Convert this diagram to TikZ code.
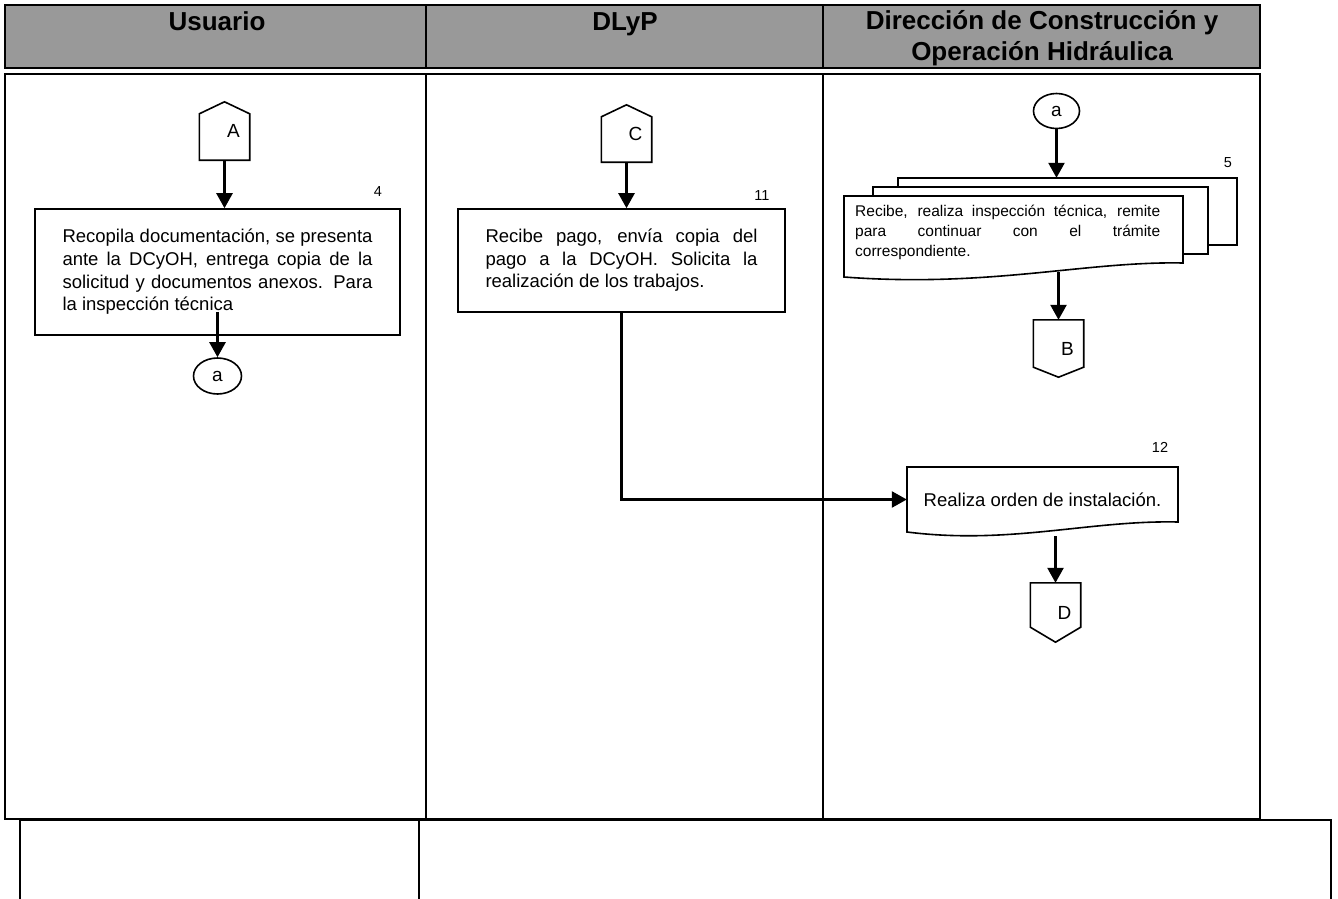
\documentclass[tikz,border=0pt]{standalone}
\usepackage{fontspec}
\setmainfont{Liberation Sans}
\usetikzlibrary{arrows.meta,calc,shapes.geometric}
\begin{document}
\begin{tikzpicture}[x=1pt,y=-1pt,
  cell/.style={draw=black,line width=1.6pt,inner sep=0pt},
  hcell/.style={cell,fill=black!40},
  htext/.style={font=\bfseries\fontsize{26}{31}\selectfont,align=center,inner sep=0pt},
  procbox/.style={draw=black,line width=1.6pt,fill=white,inner sep=0pt,font=\fontsize{18.5}{22.6}\selectfont,align=left},
  docbox/.style={draw=none,inner sep=0pt},
  docshape/.style={draw=black,line width=1.6pt,fill=white},
  docline/.style={draw=black,line width=1.6pt},
  numlbl/.style={font=\fontsize{14.5}{16}\selectfont,inner sep=0pt},
  offpage/.style={draw=none,minimum width=50pt,inner sep=0pt,font=\fontsize{19}{21}\selectfont},
  offline/.style={draw=black,line width=1.6pt},
  conn/.style={ellipse,draw=black,line width=1.6pt,minimum width=48pt,minimum height=36pt,inner sep=0pt,font=\fontsize{19}{21}\selectfont},
  flow/.style={draw=black,line width=2.5pt,-{Triangle[length=15pt,width=16pt]}},
]
\useasboundingbox (0,0) rectangle (1338,899);
\fill[white] (0,0) rectangle (1338,899);

% header
\node[hcell,minimum width=421pt,minimum height=63pt] (h1) at (215.5,36.5) {};
\node[hcell,minimum width=397pt,minimum height=63pt] (h2) at (624.5,36.5) {};
\node[hcell,minimum width=437pt,minimum height=63pt] (h3) at (1041.5,36.5) {};
\node[htext,anchor=base] (t1) at (217,31) {Usuario};
\node[htext,anchor=base] (t2) at (625,31) {DLyP};
\node[htext] (t3) at (1042,38.5) {Dirección de Construcción y\\Operación Hidráulica};

% lanes
\node[cell,minimum width=421pt,minimum height=745pt] (l1) at (215.5,446.5) {};
\node[cell,minimum width=397pt,minimum height=745pt] (l2) at (624.5,446.5) {};
\node[cell,minimum width=437pt,minimum height=745pt] (l3) at (1041.5,446.5) {};

% bottom table
\node[cell,minimum width=399pt,minimum height=90pt] (b1) at (219.5,865) {};
\node[cell,minimum width=912pt,minimum height=90pt] (b2) at (875,865) {};

% lane 1
\node[offpage,minimum height=58pt] (A) at (224.5,131) {\hspace*{18pt}A};
\draw[offline] (A.south west) -- (A.south east) -- ($(A.north east)+(0,12)$) -- (A.north) -- ($(A.north west)+(0,12)$) -- cycle;
\node[procbox,minimum width=365pt,minimum height=126pt] (p4) at (217.5,272)
 {\makebox[310pt][s]{Recopila documentación, se presenta}\\\makebox[310pt][s]{ante la DCyOH, entrega copia de la}\\\makebox[310pt][s]{solicitud y documentos anexos. Para}\\la inspección técnica};
\node[numlbl] (n4) at (378,192) {4};
\node[conn] (a1) at (217.5,376) {a};

% lane 2
\node[offpage,minimum height=57pt] (C) at (626.5,133.5) {\hspace*{18pt}C};
\draw[offline] (C.south west) -- (C.south east) -- ($(C.north east)+(0,12)$) -- (C.north) -- ($(C.north west)+(0,12)$) -- cycle;
\node[procbox,minimum width=327pt,minimum height=103pt] (p11) at (621.5,260.5)
 {\makebox[272pt][s]{Recibe pago, envía copia del}\\\makebox[272pt][s]{pago a la DCyOH. Solicita la}\\realización de los trabajos.};
\node[numlbl] (n11) at (762,196) {11};

% lane 3
\node[conn,minimum width=46pt,minimum height=35pt] (a2) at (1056.5,111) {a};
\node[docbox,minimum width=393pt,minimum height=102pt] (d5) at (1040.5,229) {};
\draw[docshape] (898,178) rectangle (1237,245);
\draw[docshape] (873,187) rectangle (1208,254);
\draw[docshape] (844,196) -- (1183,196) -- (1183,263) .. controls (1085,261) and (990,288) .. (844,277) -- cycle;
\node[anchor=west,inner sep=0pt,font=\fontsize{15.5}{20}\selectfont,align=left] (d5t) at (855,232)
 {\makebox[305pt][s]{Recibe, realiza inspección técnica, remite}\\\makebox[305pt][s]{para continuar con el trámite}\\correspondiente.};
\node[numlbl] (n5) at (1228,163) {5};

\node[offpage,minimum height=57pt] (B) at (1058.5,348.5) {\hspace*{18pt}B};
\draw[offline] (B.north west) -- (B.north east) -- ($(B.south east)+(0,-10)$) -- (B.south) -- ($(B.south west)+(0,-10)$) -- cycle;

\node[docbox,minimum width=271pt,minimum height=65pt,font=\fontsize{18.5}{22}\selectfont] (d12) at (1042.5,499.5) {Realiza orden de instalación.};
\draw[docline] (907,467) -- (1178,467) -- (1178,522) .. controls (1090,520) and (1010,545) .. (907,532) -- cycle;
\node[numlbl] (n12) at (1160,447) {12};

\node[offpage,minimum height=59pt] (D) at (1055.5,612.5) {\hspace*{18pt}D};
\draw[offline] (D.north west) -- (D.north east) -- ($(D.south east)+(0,-15)$) -- (D.south) -- ($(D.south west)+(0,-15)$) -- cycle;

% connectors
\draw[flow] (A.south) -- (A.south |- p4.north);
\draw[flow] ($(p4.south -| a1.north)+(0,-24)$) -- (a1.north);
\draw[flow] (C.south) -- (C.south |- p11.north);
\draw[flow] (p11.south) |- (d12.west);
\draw[flow] (a2.south) -- (a2.south |- d5.north);
\draw[flow] ($(d5.south -| B.north)+(0,-8)$) -- (B.north);
\draw[flow] ($(d12.south -| D.north)+(0,4)$) -- (D.north);
\end{tikzpicture}
\end{document}
